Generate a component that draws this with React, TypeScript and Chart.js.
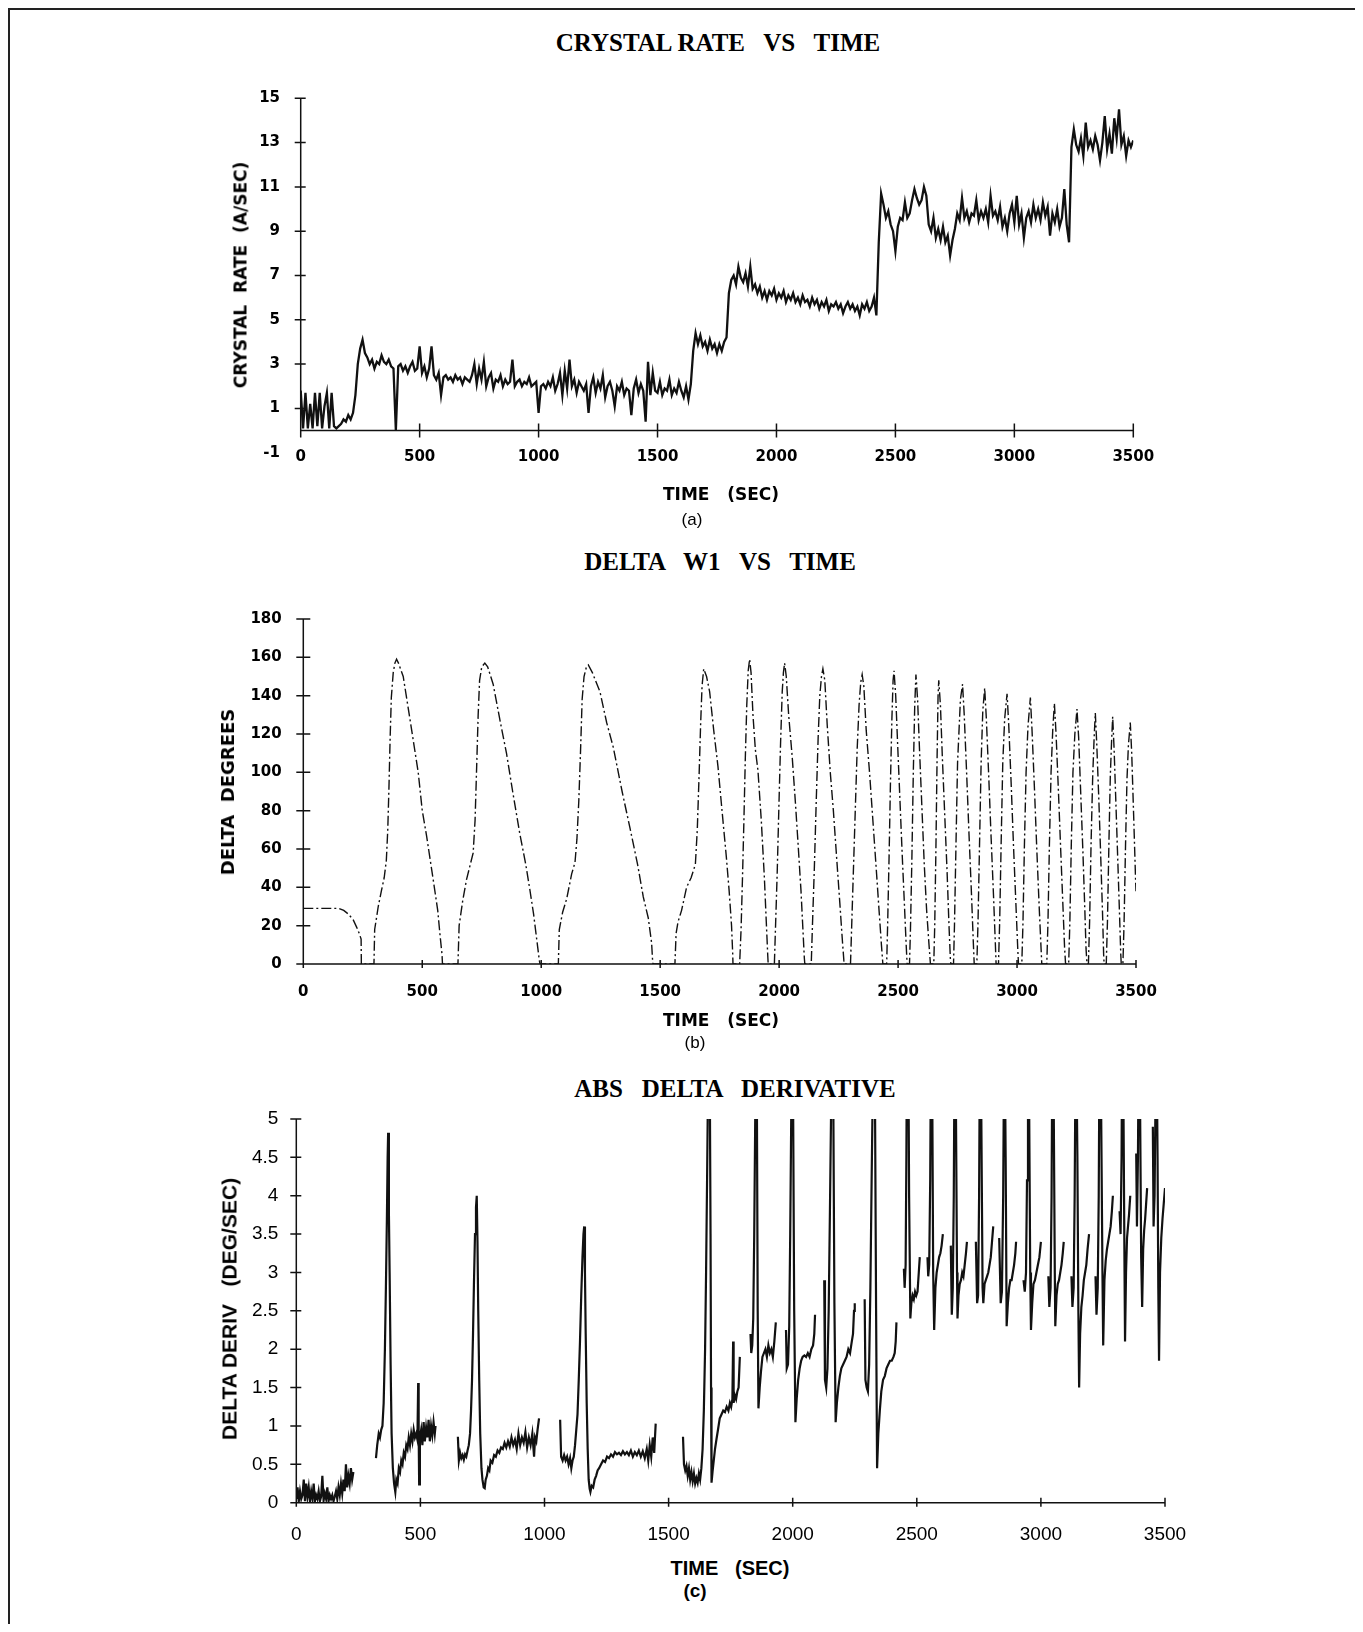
import React, { useEffect, useRef } from "react";
import { Chart, registerables } from "chart.js";

Chart.register(...registerables);

// ---------------- shared axis values ----------------
const timeTicks = [0, 500, 1000, 1500, 2000, 2500, 3000, 3500];

// ---------------- (a) CRYSTAL RATE VS TIME ----------------
const rateSampleStepSec = 10; // one reading every 10 s, starting at t = 0
const rateValues = [
  1.8, 0.1, 1.7, 0.1, 1.2, 0.1, 1.7, 0.2, 1.7, 0.1,
  1.1, 1.7, 0.1, 1.7, 0.2, 0.1, 0.2, 0.3, 0.5, 0.4,
  0.7, 0.5, 0.8, 1.6, 3.0, 3.7, 4.1, 3.5, 3.3, 3.0,
  3.2, 2.8, 3.1, 3.0, 3.4, 3.1, 3.0, 3.2, 2.9, 2.8,
  0.0, 2.9, 3.0, 2.7, 2.9, 2.6, 2.9, 3.1, 2.7, 2.8,
  3.8, 2.6, 2.9, 2.4, 2.8, 3.8, 2.5, 2.3, 2.6, 1.6,
  2.4, 2.5, 2.3, 2.4, 2.2, 2.5, 2.3, 2.4, 2.1, 2.4,
  2.3, 2.2, 2.5, 3.0, 2.1, 2.8, 2.3, 3.1, 2.0, 2.4,
  2.6, 1.9, 2.3, 2.2, 2.5, 2.0, 2.3, 2.1, 2.2, 3.2,
  2.0, 2.2, 2.3, 2.0, 2.2, 2.1, 2.4, 2.0, 2.1, 2.2,
  0.8, 2.0, 2.1, 1.9, 2.2, 2.0, 2.4, 1.8, 2.1, 2.6,
  1.6, 2.7, 1.9, 3.2, 2.0, 2.3, 1.7, 2.2, 2.0, 1.8,
  2.1, 0.8, 2.0, 2.4, 1.7, 2.2, 1.9, 2.5, 1.5, 2.0,
  2.2, 1.8, 1.1, 2.0, 1.8, 2.2, 1.6, 1.9, 1.8, 0.7,
  1.9, 2.3, 1.7, 2.1, 1.8, 0.4, 3.1, 1.6, 2.6, 1.8,
  1.7, 2.2, 1.6, 1.9, 1.8, 2.3, 1.6, 1.9, 1.7, 2.2,
  1.8, 1.5, 2.0, 1.4, 2.1, 3.6, 4.4, 3.9, 4.3, 3.8,
  4.0, 3.6, 4.1, 3.7, 3.9, 3.5, 3.9, 3.6, 4.0, 4.2,
  6.2, 6.8, 7.0, 6.6, 7.4, 6.9, 6.7, 7.1, 6.5, 7.4,
  6.4, 6.6, 6.2, 6.5, 6.0, 6.3, 5.9, 6.3, 6.1, 6.4,
  5.9, 6.2, 6.0, 6.3, 5.8, 6.1, 5.9, 6.2, 5.8, 6.0,
  5.7, 6.1, 5.8, 5.9, 5.6, 6.0, 5.7, 5.9, 5.5, 5.8,
  5.6, 5.9, 5.4, 5.7, 5.6, 5.8, 5.5, 5.7, 5.3, 5.6,
  5.8, 5.5, 5.7, 5.4, 5.6, 5.2, 5.7, 5.5, 5.8, 5.4,
  5.6, 6.0, 5.2, 8.5, 10.7, 10.2, 9.6, 9.9, 9.3, 9.0,
  8.1, 9.2, 9.6, 9.5, 10.3, 9.6, 9.8, 10.4, 10.9, 10.5,
  10.2, 10.4, 11.0, 10.6, 9.3, 9.0, 9.6, 8.7, 9.1, 8.6,
  9.2, 8.5, 8.8, 7.9, 8.6, 9.1, 9.8, 9.5, 10.5, 9.6,
  9.9, 9.4, 9.8, 9.7, 10.4, 9.5, 9.9, 9.6, 10.0, 9.4,
  10.6, 9.7, 9.9, 9.5, 10.1, 9.2, 9.6, 9.0, 9.8, 10.2,
  9.4, 10.6, 9.3, 9.8, 8.7, 9.6, 9.9, 9.4, 10.2, 9.6,
  10.0, 9.5, 10.3, 9.7, 10.1, 8.8, 9.8, 9.4, 10.0, 9.2,
  9.6, 10.9, 9.3, 8.5, 12.8, 13.6, 12.9, 12.6, 13.2, 12.4,
  13.9, 12.8, 13.1, 12.7, 13.3, 12.9, 12.2, 13.0, 14.2, 12.7,
  13.4, 12.5, 14.1, 13.2, 14.5, 12.9, 13.3, 12.4, 13.1, 12.8,
  13.1,
];
const rateTicks = [-1, 1, 3, 5, 7, 9, 11, 13, 15];

// ---------------- (b) DELTA W1 VS TIME : [time s, degrees] ----------------
const deltaSeries: [number, number][] = [
  [0, 29], [50, 29], [100, 29], [150, 29], [170, 28], [190, 26], [210, 23], [225, 19], [235, 16], [243, 13],
  [244, 0], [297, 0], [300, 18], [315, 30], [328, 38], [340, 45], [349, 54], [355, 70], [360, 92], [365, 118],
  [370, 139], [378, 152], [385, 157], [392, 159], [400, 157], [420, 150], [448, 128], [483, 100], [500, 80], [518, 67],
  [546, 44], [565, 28], [574, 16], [583, 5], [585, 0], [650, 0], [655, 20], [670, 33], [686, 44], [714, 58],
  [722, 75], [728, 100], [735, 130], [741, 148], [750, 155], [763, 157], [775, 155], [798, 146], [830, 125], [854, 110],
  [880, 90], [910, 68], [935, 52], [952, 39], [968, 26], [980, 14], [992, 2], [995, 0], [1072, 0], [1076, 18],
  [1090, 27], [1107, 34], [1128, 47], [1142, 53], [1150, 65], [1158, 85], [1165, 110], [1172, 138], [1180, 150], [1190, 155],
  [1198, 156], [1215, 152], [1247, 142], [1275, 126], [1303, 113], [1340, 90], [1373, 71], [1405, 52], [1429, 35], [1450, 24],
  [1464, 11], [1468, 2], [1470, 0], [1562, 0], [1567, 16], [1575, 22], [1590, 28], [1611, 40], [1630, 45], [1648, 52],
  [1656, 70], [1664, 100], [1670, 125], [1676, 145], [1683, 154], [1695, 150], [1708, 142], [1725, 122], [1743, 103], [1760, 80],
  [1778, 56], [1790, 38], [1800, 20], [1805, 5], [1806, 0], [1834, 0], [1840, 18], [1846, 45], [1852, 75], [1858, 108],
  [1864, 135], [1870, 153], [1876, 159], [1882, 152], [1890, 130], [1900, 112], [1911, 101], [1925, 75], [1938, 45], [1946, 22],
  [1952, 5], [1954, 0], [1980, 0], [1985, 20], [1992, 48], [1999, 82], [2006, 115], [2013, 142], [2018, 152], [2023, 157],
  [2030, 150], [2040, 130], [2055, 108], [2068, 85], [2080, 62], [2092, 38], [2100, 18], [2106, 3], [2108, 0], [2135, 0],
  [2140, 20], [2148, 50], [2156, 85], [2164, 118], [2171, 140], [2178, 150], [2184, 154], [2192, 148], [2202, 125], [2215, 100],
  [2228, 80], [2242, 55], [2255, 32], [2266, 12], [2272, 2], [2274, 0], [2300, 0], [2305, 20], [2312, 48], [2320, 80],
  [2328, 112], [2336, 135], [2343, 147], [2349, 151], [2356, 145], [2366, 122], [2380, 100], [2394, 75], [2408, 50], [2420, 28],
  [2430, 10], [2436, 0], [2452, 0], [2456, 20], [2462, 55], [2468, 95], [2474, 128], [2479, 148], [2483, 153], [2490, 140],
  [2498, 115], [2508, 85], [2518, 55], [2527, 30], [2534, 10], [2538, 0], [2548, 0], [2552, 18], [2558, 55], [2564, 100],
  [2570, 135], [2575, 151], [2582, 138], [2590, 112], [2600, 82], [2610, 52], [2620, 28], [2630, 10], [2636, 0], [2650, 0],
  [2654, 20], [2659, 60], [2664, 108], [2668, 140], [2671, 148], [2678, 135], [2686, 108], [2696, 78], [2706, 48], [2714, 20],
  [2720, 2], [2722, 0], [2733, 0], [2737, 20], [2743, 60], [2750, 105], [2762, 138], [2771, 146], [2778, 130], [2788, 100],
  [2798, 68], [2808, 38], [2816, 12], [2820, 0], [2831, 0], [2836, 22], [2842, 60], [2849, 105], [2856, 132], [2864, 144],
  [2871, 128], [2881, 98], [2891, 66], [2901, 36], [2909, 10], [2912, 0], [2922, 0], [2927, 22], [2933, 62], [2940, 105],
  [2948, 128], [2958, 141], [2965, 125], [2975, 95], [2985, 62], [2995, 32], [3003, 8], [3006, 0], [3020, 0], [3025, 22],
  [3031, 62], [3038, 100], [3046, 124], [3056, 139], [3063, 122], [3073, 92], [3083, 60], [3093, 30], [3101, 8], [3104, 0],
  [3125, 0], [3130, 22], [3136, 62], [3143, 100], [3150, 122], [3157, 136], [3164, 120], [3174, 90], [3184, 58], [3193, 30],
  [3200, 8], [3204, 0], [3217, 0], [3222, 22], [3228, 62], [3235, 100], [3243, 120], [3252, 133], [3259, 118], [3268, 88],
  [3277, 58], [3285, 28], [3290, 8], [3294, 0], [3300, 0], [3305, 22], [3311, 62], [3318, 98], [3324, 118], [3329, 131],
  [3335, 115], [3344, 85], [3352, 55], [3359, 28], [3364, 5], [3366, 0], [3375, 0], [3380, 22], [3386, 62], [3392, 98],
  [3397, 115], [3402, 129], [3408, 112], [3416, 82], [3424, 52], [3431, 25], [3436, 5], [3438, 0], [3445, 0], [3450, 22],
  [3456, 62], [3462, 96], [3468, 114], [3476, 126], [3482, 110], [3490, 78], [3498, 45], [3500, 38],
];
const deltaTicks = [0, 20, 40, 60, 80, 100, 120, 140, 160, 180];

// ---------------- (c) ABS DELTA DERIVATIVE : [time s, deg/s] (null = no reading) ----------------
const derivSeries: [number, number | null][] = [
  [0, 0.05], [5, 0.2], [10, 0.02], [15, 0.15], [20, 0.05], [25, 0.1], [30, 0.3], [35, 0.02], [40, 0.25], [45, 0.08],
  [50, 0.2], [55, 0.02], [60, 0.15], [65, 0.05], [70, 0.25], [75, 0.02], [80, 0.1], [85, 0.05], [90, 0.15], [95, 0.02],
  [100, 0.08], [105, 0.35], [110, 0.03], [115, 0.12], [120, 0.05], [125, 0.2], [130, 0.02], [135, 0.1], [140, 0.05], [145, 0.1],
  [150, 0.02], [155, 0.08], [160, 0.15], [165, 0.05], [170, 0.2], [175, 0.1], [180, 0.25], [185, 0.12], [190, 0.3], [195, 0.15],
  [200, 0.5], [205, 0.2], [210, 0.35], [215, 0.25], [220, 0.45], [225, 0.3], [230, 0.4], [231, null],
  [321, 0.58], [326, 0.75], [332, 0.9], [337, 0.85], [342, 0.95], [347, 1.0], [352, 1.3], [357, 2.0], [361, 2.8], [365, 3.7],
  [368, 4.5], [370, 4.82], [373, 3.8], [376, 3.0], [380, 1.8], [384, 0.9], [389, 0.45], [394, 0.25], [399, 0.14], [403, 0.3],
  [408, 0.25], [413, 0.45], [418, 0.4], [423, 0.55], [428, 0.5], [433, 0.65], [438, 0.6], [443, 0.75], [448, 0.7], [453, 0.85],
  [458, 0.75], [463, 0.9], [468, 0.8], [473, 0.95], [478, 0.85], [483, 0.9], [488, 0.82], [491, 1.56], [493, 0.9], [495, 0.24],
  [498, 0.85], [503, 0.95], [508, 0.75], [513, 1.05], [518, 0.8], [523, 0.98], [528, 0.85], [533, 1.08], [538, 0.8], [543, 1.0],
  [548, 0.88], [553, 1.05], [558, 0.9], [561, 1.0], [562, null],
  [651, 0.86], [655, 0.55], [660, 0.65], [665, 0.58], [670, 0.62], [675, 0.56], [680, 0.63], [685, 0.6], [690, 0.68], [695, 0.75],
  [700, 0.9], [704, 1.2], [708, 1.6], [712, 2.2], [716, 2.9], [720, 3.5], [724, 3.85], [727, 4.0], [730, 3.4], [733, 2.5],
  [737, 1.6], [741, 0.9], [746, 0.45], [750, 0.3], [755, 0.2], [759, 0.19], [763, 0.3], [768, 0.35], [773, 0.45], [778, 0.42],
  [783, 0.55], [790, 0.52], [797, 0.62], [804, 0.6], [811, 0.68], [818, 0.65], [825, 0.72], [832, 0.7], [839, 0.78], [846, 0.72],
  [853, 0.8], [860, 0.73], [867, 0.85], [874, 0.75], [881, 0.82], [888, 0.7], [895, 0.9], [902, 0.75], [909, 0.85], [916, 0.78],
  [923, 0.92], [930, 0.72], [937, 0.85], [944, 0.75], [951, 0.9], [958, 0.6], [962, 0.85], [967, 0.8], [972, 0.95], [978, 1.1],
  [979, null],
  [1063, 1.08], [1067, 0.6], [1073, 0.55], [1079, 0.62], [1085, 0.55], [1091, 0.6], [1097, 0.5], [1103, 0.58], [1108, 0.45], [1113, 0.55],
  [1118, 0.6], [1123, 0.75], [1128, 0.95], [1133, 1.15], [1138, 1.6], [1143, 2.1], [1148, 2.7], [1153, 3.2], [1157, 3.5], [1160, 3.6],
  [1163, 3.0], [1166, 2.2], [1170, 1.3], [1174, 0.7], [1178, 0.3], [1182, 0.18], [1185, 0.14], [1190, 0.22], [1196, 0.2], [1202, 0.3],
  [1208, 0.35], [1214, 0.42], [1220, 0.45], [1228, 0.5], [1236, 0.55], [1244, 0.53], [1252, 0.6], [1260, 0.58], [1268, 0.63], [1276, 0.6],
  [1284, 0.66], [1292, 0.63], [1300, 0.65], [1308, 0.62], [1316, 0.67], [1324, 0.63], [1332, 0.66], [1340, 0.62], [1348, 0.68], [1356, 0.6],
  [1364, 0.66], [1372, 0.62], [1380, 0.68], [1388, 0.6], [1396, 0.67], [1404, 0.58], [1412, 0.7], [1418, 0.55], [1424, 0.75], [1430, 0.6],
  [1436, 0.85], [1442, 0.65], [1448, 1.03], [1449, null],
  [1558, 0.86], [1562, 0.5], [1567, 0.42], [1572, 0.48], [1577, 0.35], [1582, 0.45], [1587, 0.3], [1592, 0.4], [1597, 0.28], [1602, 0.38],
  [1607, 0.25], [1612, 0.32], [1617, 0.26], [1622, 0.38], [1627, 0.3], [1632, 0.45], [1637, 0.7], [1642, 1.2], [1647, 2.0], [1651, 3.0],
  [1655, 4.2], [1659, 5.5], [1663, 6.5], [1666, 5.5], [1669, 3.5], [1671, 1.5], [1673, 0.26], [1677, 0.4], [1682, 0.55], [1687, 0.7],
  [1693, 0.83], [1699, 0.95], [1706, 1.1], [1713, 1.15], [1720, 1.2], [1727, 1.18], [1734, 1.25], [1741, 1.2], [1747, 1.3], [1752, 1.25],
  [1757, 1.35], [1760, 2.1], [1762, 1.3], [1767, 1.4], [1772, 1.35], [1777, 1.45], [1782, 1.5], [1787, 1.9], [1788, null],
  [1830, 2.2], [1833, 1.95], [1837, 2.05], [1841, 2.4], [1845, 3.5], [1849, 5.0], [1853, 6.5], [1856, 5.0], [1859, 2.5], [1862, 1.23],
  [1867, 1.5], [1872, 1.7], [1878, 1.9], [1884, 1.95], [1890, 2.0], [1896, 1.9], [1902, 2.05], [1908, 1.95], [1914, 2.0], [1920, 1.9],
  [1926, 2.1], [1932, 2.35], [1933, null],
  [1973, 2.25], [1976, 1.75], [1981, 1.8], [1986, 2.3], [1990, 3.5], [1994, 5.0], [1998, 6.5], [2002, 5.0], [2006, 2.5], [2011, 1.05],
  [2016, 1.35], [2022, 1.6], [2028, 1.75], [2034, 1.85], [2040, 1.9], [2047, 1.92], [2054, 1.9], [2061, 1.95], [2068, 1.9], [2075, 2.0],
  [2082, 2.05], [2087, 2.2], [2090, 2.45], [2091, null],
  [2127, 2.9], [2130, 1.6], [2135, 1.5], [2140, 1.75], [2145, 2.5], [2150, 3.8], [2155, 5.2], [2160, 6.5], [2164, 5.0], [2168, 2.6],
  [2173, 1.05], [2178, 1.3], [2184, 1.5], [2190, 1.65], [2196, 1.75], [2203, 1.8], [2210, 1.85], [2217, 1.9], [2224, 2.0], [2231, 1.95],
  [2238, 2.1], [2243, 2.2], [2247, 2.5], [2250, 2.6], [2251, null],
  [2290, 2.65], [2293, 1.6], [2298, 1.5], [2303, 1.45], [2308, 1.8], [2313, 2.8], [2318, 4.2], [2323, 5.5], [2328, 6.5], [2332, 5.0],
  [2336, 2.5], [2340, 0.45], [2345, 0.9], [2351, 1.2], [2357, 1.45], [2364, 1.6], [2371, 1.65], [2378, 1.75], [2385, 1.8], [2392, 1.85],
  [2399, 1.85], [2406, 1.9], [2411, 1.95], [2415, 2.1], [2418, 2.35], [2419, null],
  [2448, 3.05], [2451, 2.8], [2455, 3.1], [2458, 4.5], [2461, 6.5], [2465, 6.5], [2469, 4.0], [2474, 2.4], [2478, 2.6], [2483, 2.7],
  [2488, 2.65], [2493, 2.75], [2498, 2.7], [2503, 2.75], [2508, 3.0], [2512, 3.2], [2513, null],
  [2543, 3.2], [2546, 2.95], [2550, 3.1], [2554, 4.2], [2558, 6.5], [2562, 5.5], [2566, 3.0], [2570, 2.25], [2575, 2.8], [2580, 3.0],
  [2585, 3.1], [2590, 3.2], [2595, 3.25], [2600, 3.35], [2605, 3.5], [2606, null],
  [2637, 3.35], [2641, 2.45], [2645, 2.8], [2649, 4.0], [2653, 6.5], [2658, 5.0], [2662, 3.0], [2664, 2.4], [2668, 2.7], [2673, 2.85],
  [2678, 2.9], [2683, 3.0], [2688, 2.95], [2693, 3.1], [2698, 3.25], [2702, 3.4], [2703, null],
  [2738, 3.4], [2743, 2.6], [2747, 2.7], [2751, 4.0], [2755, 6.5], [2760, 5.0], [2765, 2.8], [2768, 2.6], [2773, 2.85], [2778, 2.9],
  [2783, 2.95], [2788, 3.0], [2793, 3.1], [2798, 3.2], [2803, 3.4], [2808, 3.6], [2809, null],
  [2832, 3.45], [2838, 2.6], [2843, 2.75], [2848, 4.0], [2853, 6.5], [2858, 4.5], [2862, 2.3], [2867, 2.6], [2872, 2.8], [2877, 2.9],
  [2882, 2.9], [2887, 3.0], [2892, 3.1], [2897, 3.25], [2900, 3.4], [2901, null],
  [2930, 2.9], [2935, 2.75], [2940, 3.0], [2944, 4.2], [2948, 6.5], [2953, 5.0], [2957, 3.0], [2960, 2.25], [2965, 2.6], [2970, 2.85],
  [2976, 2.9], [2982, 3.0], [2988, 3.1], [2994, 3.2], [3000, 3.4], [3001, null],
  [3030, 2.95], [3034, 2.55], [3039, 2.8], [3043, 4.0], [3047, 6.5], [3052, 5.0], [3056, 3.0], [3058, 2.3], [3063, 2.7], [3068, 2.85],
  [3073, 2.9], [3078, 3.0], [3083, 3.1], [3088, 3.25], [3092, 3.4], [3093, null],
  [3123, 2.95], [3127, 2.55], [3132, 2.8], [3136, 4.0], [3141, 6.5], [3147, 4.5], [3151, 2.5], [3154, 1.5], [3158, 2.2], [3163, 2.55],
  [3168, 2.7], [3173, 2.9], [3178, 3.0], [3183, 3.1], [3188, 3.3], [3194, 3.5], [3195, null],
  [3220, 2.95], [3224, 2.45], [3229, 2.8], [3233, 4.0], [3237, 6.5], [3243, 5.0], [3248, 3.0], [3251, 2.05], [3256, 2.9], [3261, 3.15],
  [3266, 3.3], [3271, 3.4], [3276, 3.5], [3281, 3.6], [3286, 3.8], [3290, 4.0], [3291, null],
  [3317, 3.8], [3321, 3.5], [3325, 4.5], [3328, 6.5], [3333, 5.0], [3337, 3.0], [3339, 2.1], [3343, 3.0], [3347, 3.45], [3351, 3.6],
  [3355, 3.75], [3360, 4.0], [3361, null],
  [3384, 4.55], [3387, 3.6], [3391, 4.5], [3395, 6.5], [3400, 5.0], [3404, 3.2], [3408, 2.55], [3412, 3.3], [3416, 3.55], [3420, 3.7],
  [3424, 3.9], [3428, 4.1], [3429, null],
  [3451, 4.9], [3454, 3.6], [3458, 4.0], [3461, 5.0], [3465, 6.5], [3470, 4.5], [3473, 2.8], [3476, 1.85], [3480, 3.0], [3485, 3.45],
  [3490, 3.7], [3495, 3.9], [3500, 4.1],
];
const derivTicks = [0, 0.5, 1, 1.5, 2, 2.5, 3, 3.5, 4, 4.5, 5];

// ---------------- drawing helpers ----------------
const INK = "#111";

// Draws the axis lines with tick marks that cross the axis (as on the original plots).
const paperAxes = {
  id: "paperAxes",
  afterDatasetsDraw(chart: any, _args: any, o: any) {
    const { ctx, chartArea } = chart;
    const xs = chart.scales.x;
    const ys = chart.scales.y;
    const axisY = ys.getPixelForValue(o.xAxisAt);
    const left = chartArea.left;
    ctx.save();
    ctx.strokeStyle = INK;
    ctx.lineWidth = o.lineWidth;
    ctx.beginPath();
    ctx.moveTo(xs.getPixelForValue(o.xFrom), axisY);
    ctx.lineTo(xs.getPixelForValue(o.xTo), axisY);
    ctx.moveTo(left, ys.getPixelForValue(o.yFrom));
    ctx.lineTo(left, ys.getPixelForValue(o.yTo));
    for (const t of xs.ticks) {
      const px = xs.getPixelForValue(t.value);
      ctx.moveTo(px, axisY + o.xTickOut);
      ctx.lineTo(px, axisY - o.xTickIn);
    }
    for (const t of ys.ticks) {
      if (o.skipY && o.skipY.includes(t.value)) continue;
      const py = ys.getPixelForValue(t.value);
      ctx.moveTo(left - o.yTickOut, py);
      ctx.lineTo(left + o.yTickIn, py);
    }
    ctx.stroke();
    ctx.restore();
  },
};

type Spec = {
  points: { x: number; y: number | null }[];
  lineWidth: number;
  dash?: number[];
  yMin: number;
  yMax: number;
  yTicks: number[];
  font: { family: string; size: number; weight: string };
  pad: { left: number; right: number; top: number; bottom: number };
  yWidth: number;
  xHeight: number;
  xOnZero: boolean;
  xLabelPad: number;
  yLabelPad: number;
  axes: any;
};

function makeConfig(s: Spec): any {
  const tickFont = { family: s.font.family, size: s.font.size, weight: s.font.weight, lineHeight: 1.2 };
  return {
    type: "line",
    data: {
      datasets: [
        {
          data: s.points,
          borderColor: INK,
          borderWidth: s.lineWidth,
          borderDash: s.dash || [],
          pointRadius: 0,
          tension: 0,
          fill: false,
          spanGaps: false,
        },
      ],
    },
    options: {
      animation: false,
      responsive: false,
      parsing: false,
      normalized: true,
      events: [],
      layout: { padding: s.pad },
      plugins: {
        legend: { display: false },
        tooltip: { enabled: false },
        title: { display: false },
        paperAxes: s.axes,
      },
      scales: {
        x: {
          type: "linear",
          min: 0,
          max: 3500,
          position: s.xOnZero ? { y: 0 } : "bottom",
          afterBuildTicks: (sc: any) => {
            sc.ticks = timeTicks.map((v) => ({ value: v }));
          },
          afterFit: (sc: any) => {
            sc.height = s.xHeight;
          },
          grid: { display: false, drawTicks: false },
          border: { display: false },
          ticks: {
            color: "#000",
            font: tickFont,
            padding: s.xLabelPad,
            maxRotation: 0,
            autoSkip: false,
            callback: (v: any) => String(v),
          },
        },
        y: {
          type: "linear",
          min: s.yMin,
          max: s.yMax,
          position: "left",
          afterBuildTicks: (sc: any) => {
            sc.ticks = s.yTicks.map((v) => ({ value: v }));
          },
          afterFit: (sc: any) => {
            sc.width = s.yWidth;
          },
          grid: { display: false, drawTicks: false },
          border: { display: false },
          ticks: {
            color: "#000",
            font: tickFont,
            padding: s.yLabelPad,
            autoSkip: false,
            callback: (v: any) => String(v),
          },
        },
      },
    },
    plugins: [paperAxes],
  };
}

const PAGE_MARGIN = 8;

function ChartCanvas(props: { left: number; top: number; width: number; height: number; make: () => any }) {
  const ref = useRef<HTMLCanvasElement | null>(null);
  useEffect(() => {
    const chart = new Chart(ref.current as HTMLCanvasElement, props.make());
    return () => chart.destroy();
  }, []);
  return (
    <canvas
      ref={ref}
      width={props.width}
      height={props.height}
      style={{
        position: "absolute",
        left: props.left - PAGE_MARGIN,
        top: props.top - PAGE_MARGIN,
        width: props.width,
        height: props.height,
      }}
    />
  );
}

function Txt(props: { x: number; y: number; text: string; font: string; rotate?: boolean }) {
  return (
    <div
      style={{
        position: "absolute",
        left: props.x - PAGE_MARGIN,
        top: props.y - PAGE_MARGIN,
        transform: `translate(-50%, -50%)${props.rotate ? " rotate(-90deg)" : ""}`,
        whiteSpace: "pre",
        font: props.font,
        lineHeight: 1,
        color: "#000",
      }}
    >
      {props.text}
    </div>
  );
}

function Rule(props: { x: number; y: number; w: number; h: number }) {
  return (
    <div
      style={{
        position: "absolute",
        left: props.x - PAGE_MARGIN,
        top: props.y - PAGE_MARGIN,
        width: props.w,
        height: props.h,
        background: "#222",
      }}
    />
  );
}

const TITLE_FONT = "bold 25px 'Liberation Serif', serif";
const AXIS_FONT_AB = "bold 17px 'DejaVu Sans', sans-serif";
const TICK_AB = { family: "'DejaVu Sans', sans-serif", size: 15, weight: "bold" };
const TICK_C = { family: "'Liberation Sans', Arial, sans-serif", size: 19, weight: "normal" };

export default function App() {
  const ratePoints = rateValues.map((v, i) => ({ x: i * rateSampleStepSec, y: v }));
  const deltaPoints = deltaSeries.map(([t, v]) => ({ x: t, y: v }));
  const derivPoints = derivSeries.map(([t, v]) => ({ x: t, y: v }));

  return (
    <div style={{ position: "relative", width: 1347, height: 1616, background: "#fff" }}>
      {/* (a) */}
      <Txt x={718} y={42} text={"CRYSTAL RATE   VS   TIME"} font={TITLE_FONT} />
      <ChartCanvas
        left={180}
        top={63}
        width={1000}
        height={422}
        make={() =>
          makeConfig({
            points: ratePoints,
            lineWidth: 2.3,
            yMin: -1,
            yMax: 15,
            yTicks: rateTicks,
            font: TICK_AB,
            pad: { left: 0, right: 46.7, top: 35.3, bottom: 32.3 },
            yWidth: 120.7,
            xHeight: 30,
            xOnZero: true,
            xLabelPad: 17.3,
            yLabelPad: 20.7,
            axes: { xAxisAt: 0, xFrom: 0, xTo: 3500, yFrom: 15, yTo: -0.3, xTickOut: 7, xTickIn: 7, yTickOut: 6, yTickIn: 5, skipY: [-1], lineWidth: 1.5 },
          })
        }
      />
      <Txt x={241} y={275} text={"CRYSTAL  RATE  (A/SEC)"} font={AXIS_FONT_AB} rotate />
      <Txt x={721} y={494} text={"TIME   (SEC)"} font={AXIS_FONT_AB} />
      <Txt x={692} y={519} text={"(a)"} font={"17px 'Liberation Sans', Arial, sans-serif"} />

      {/* (b) */}
      <Txt x={720} y={561} text={"DELTA   W1   VS   TIME"} font={TITLE_FONT} />
      <ChartCanvas
        left={180}
        top={584}
        width={1000}
        height={442}
        make={() =>
          makeConfig({
            points: deltaPoints,
            lineWidth: 1.4,
            dash: [10, 3, 2, 3],
            yMin: 0,
            yMax: 180,
            yTicks: deltaTicks,
            font: TICK_AB,
            pad: { left: 0, right: 44, top: 35, bottom: 22 },
            yWidth: 123.3,
            xHeight: 40,
            xOnZero: false,
            xLabelPad: 18.7,
            yLabelPad: 21.6,
            axes: { xAxisAt: 0, xFrom: 0, xTo: 3500, yFrom: 180, yTo: 0, xTickOut: 4, xTickIn: 4, yTickOut: 7, yTickIn: 7, lineWidth: 1.5 },
          })
        }
      />
      <Txt x={228} y={792} text={"DELTA  DEGREES"} font={"bold 18px 'DejaVu Sans', sans-serif"} rotate />
      <Txt x={721} y={1020} text={"TIME   (SEC)"} font={AXIS_FONT_AB} />
      <Txt x={695} y={1042} text={"(b)"} font={"17px 'Liberation Sans', Arial, sans-serif"} />

      {/* (c) */}
      <Txt x={735} y={1088} text={"ABS   DELTA   DERIVATIVE"} font={TITLE_FONT} />
      <ChartCanvas
        left={180}
        top={1084}
        width={1040}
        height={466}
        make={() =>
          makeConfig({
            points: derivPoints,
            lineWidth: 2.2,
            yMin: 0,
            yMax: 5,
            yTicks: derivTicks,
            font: TICK_C,
            pad: { left: 0, right: 55, top: 35, bottom: 7.3 },
            yWidth: 116.3,
            xHeight: 40,
            xOnZero: false,
            xLabelPad: 20.9,
            yLabelPad: 18,
            axes: { xAxisAt: 0, xFrom: 0, xTo: 3500, yFrom: 5, yTo: 0, xTickOut: 4, xTickIn: 5, yTickOut: 6, yTickIn: 5, lineWidth: 1.5 },
          })
        }
      />
      <Txt x={229} y={1309} text={"DELTA DERIV   (DEG/SEC)"} font={"bold 21px 'Liberation Sans', Arial, sans-serif"} rotate />
      <Txt x={730} y={1568} text={"TIME   (SEC)"} font={"bold 20px 'Liberation Sans', Arial, sans-serif"} />
      <Txt x={695} y={1590} text={"(c)"} font={"bold 19px 'Liberation Sans', Arial, sans-serif"} />

      {/* page frame (drawn last, on top) */}
      <Rule x={6} y={8} w={1355} h={2} />
      <Rule x={8} y={8} w={2} h={1616} />
      <Rule x={1357} y={8} w={2} h={1616} />
    </div>
  );
}
